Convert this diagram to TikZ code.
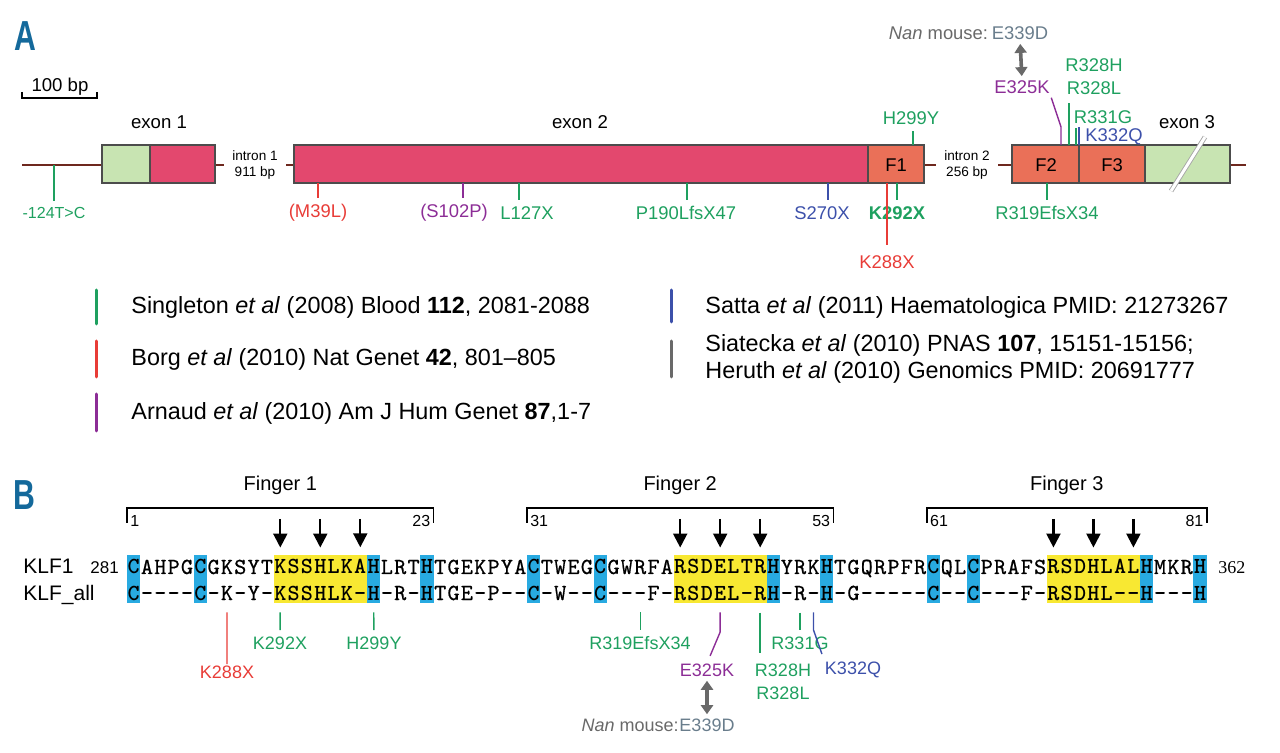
\documentclass[tikz,border=0pt]{standalone}
\usepackage{fontspec}
\setmainfont{Liberation Sans}
\newfontfamily\numfont{Liberation Serif}
\newfontfamily\seqmed{lmmono10-regular.otf}[FakeBold=0.7]
\usetikzlibrary{arrows.meta}

\definecolor{grn}{RGB}{30,160,95}
\definecolor{redm}{RGB}{232,60,55}
\definecolor{purp}{RGB}{140,45,150}
\definecolor{blu}{RGB}{60,80,170}
\definecolor{gry}{RGB}{105,105,105}
\definecolor{mgry}{RGB}{105,125,140}
\definecolor{exred}{RGB}{227,72,110}
\definecolor{fing}{RGB}{234,112,88}
\definecolor{utr}{RGB}{200,228,178}
\definecolor{pblue}{RGB}{20,105,155}
\definecolor{hlblue}{RGB}{40,170,225}
\definecolor{hlyel}{RGB}{248,232,50}
\definecolor{gline}{RGB}{110,40,30}

\begin{document}
\begin{tikzpicture}[x=0.5pt, y=-0.5pt,
        panel/.style={font=\fontsize{21}{21}\selectfont\bfseries, text=pblue, inner sep=0pt},
        lbl/.style={font=\fontsize{9.3}{11}\selectfont, inner sep=0pt},
        mut/.style={font=\fontsize{9.2}{11}\selectfont, inner sep=0pt},
        mutb/.style={font=\fontsize{9}{11}\selectfont, inner sep=0pt},
        small/.style={font=\fontsize{6.8}{7.6}\selectfont, align=center, inner sep=0pt},
        refs/.style={font=\fontsize{11.7}{13.5}\selectfont, anchor=west, inner sep=0pt, align=left},
        bar/.style={line width=1.5pt, line cap=round},
        box/.style={draw=black!70, line width=0.6pt},
        tk/.style={line width=0.7pt, shorten >=3pt},
        res/.style={font=\fontsize{11.5}{12}\selectfont\ttfamily, inner sep=0pt, anchor=base},
        arr/.style={-{Triangle[width=7pt,length=7pt]}, line width=1.1pt},
        dbl/.style={{Triangle[width=6pt,length=4.5pt]}-{Triangle[width=6pt,length=4.5pt]}, line width=1.8pt, draw=gry, shorten <=2pt, shorten >=2pt}
    ]
    \useasboundingbox (0,0) rectangle (1280,753);

    % panel A: gene
    \node[panel] (pA) at (25,36) {\scalebox{0.72}[1]{A}};
    \node[lbl] (bp) at (60,87) {100 bp};
    \draw[line width=0.7pt] (22,92) -- (22,98) -- (97,98) -- (97,92);

    \draw[gline, line width=0.8pt] (22,165) -- (1246,165);
    \path[box, fill=utr] (102,145) rectangle (150,183);
    \path[box, fill=exred] (150,145) rectangle (215,183);
    \path[box, fill=exred] (294,145) rectangle (868,183);
    \path[box, fill=fing] (868,145) rectangle (924,183);
    \path[box, fill=fing] (1012,145) rectangle (1079,183);
    \path[box, fill=fing] (1079,145) rectangle (1145,183);
    \path[box, fill=utr] (1145,145) rectangle (1230,183);
    \draw[line width=2.4pt, black!35] (1205,137) -- (1171,191);
    \draw[line width=1.5pt, white] (1205,137) -- (1171,191);

    \node[small, fill=white, inner xsep=4pt, inner ysep=1pt] (in1) at (255,165) {intron 1\\911 bp};
    \node[small, fill=white, inner xsep=4pt, inner ysep=1pt] (in2) at (967,165) {intron 2\\256 bp};
    \node[lbl] (ex1) at (159,122) {exon 1};
    \node[lbl] (ex2) at (580,122) {exon 2};
    \node[lbl] (ex3) at (1187,122) {exon 3};
    \node[mut] (f1) at (896,165) {F1};
    \node[mut] (f2) at (1046,165) {F2};
    \node[mut] (f3) at (1112,165) {F3};

    % mutations below the gene
    \node[mut, text=grn, font=\fontsize{8}{9}\selectfont] (m124) at (54,213) {-124T>C};
    \node[mut, text=redm] (m39) at (318,213) {(M39L)};
    \node[mut, text=purp] (s102) at (454,213) {(S102P)};
    \node[mut, text=grn] (l127) at (527,213) {L127X};
    \node[mut, text=grn] (p190) at (686,213) {P190LfsX47};
    \node[mut, text=blu] (s270) at (822,213) {S270X};
    \node[mut, text=redm] (k288) at (887,262) {K288X};
    \node[mut, text=grn, font=\fontsize{9.2}{11}\selectfont\bfseries] (k292) at (897,213) {K292X};
    \node[mut, text=grn] (r319) at (1047,213) {R319EfsX34};
    \coordinate (t124) at (54,165);
    \coordinate (t39) at (318,183);
    \coordinate (t102) at (463,183);
    \coordinate (t127) at (519,183);
    \coordinate (t190) at (687,183);
    \coordinate (t270) at (828,183);
    \coordinate (t288) at (887,183);
    \coordinate (t292) at (897,183);
    \coordinate (t319) at (1047,183);
    \draw[tk, grn] (t124) -- (t124 |- m124.north);
    \draw[tk, redm] (t39) -- (m39.north);
    \draw[tk, purp] (t102) -- (t102 |- s102.north);
    \draw[tk, grn] (t127) -- (t127 |- l127.north);
    \draw[tk, grn] (t190) -- (t190 |- p190.north);
    \draw[tk, blu] (t270) -- (t270 |- s270.north);
    \draw[tk, redm, shorten >=5pt] (t288) -- (k288.north);
    \draw[tk, grn] (t292) -- (k292.north);
    \draw[tk, grn] (t319) -- (r319.north);

    % mutations above the gene
    \node[mut, text=grn] (h299) at (911,118) {H299Y};
    \node[mut, text=purp] (e325) at (1022,87) {E325K};
    \node[mut, text=grn] (r328h) at (1094,65) {R328H};
    \node[mut, text=grn] (r328l) at (1094,88) {R328L};
    \node[mut, text=grn] (r331) at (1103,117) {R331G};
    \node[mut, text=blu] (k332) at (1114,137) {K332Q};
    \node[mut, text=mgry] (e339) at (1020,33) {E339D};
    \node[mut, text=gry, anchor=east] (nan) at (e339.west) {\textit{Nan} mouse:\,};
    \coordinate (t299) at (913,145);
    \coordinate (t325) at (1061,145);
    \coordinate (b325) at (1061,127);
    \coordinate (t328) at (1069,145);
    \coordinate (t331) at (1076,145);
    \coordinate (t332) at (1079,145);
    \coordinate (u332) at (1079,127);
    \draw[tk, grn] (t299) -- (t299 |- h299.south);
    \draw[tk, purp, shorten >=2pt] (t325) -- (b325) -- (e325.south east);
    \draw[tk, grn, shorten >=4pt] (t328) -- (t328 |- r328l.south);
    \draw[tk, grn, shorten >=2pt] (t331) -- (t331 |- r331.south);
    \draw[tk, blu, shorten >=0pt] (t332) -- (u332);
    \draw[dbl] (e339.south) -- (e325.north);

    % references
    \draw[bar, grn] (96,290) -- (96,324);
    \draw[bar, redm] (96,341) -- (96,377);
    \draw[bar, purp] (96,394) -- (96,431);
    \draw[bar, blu] (671,290) -- (671,322);
    \draw[bar, gry] (671,341) -- (671,377);
    \node[refs] (ref1) at (131,307) {Singleton \textit{et al} (2008) Blood \textbf{112}, 2081-2088};
    \node[refs] (ref2) at (131,359) {Borg \textit{et al} (2010) Nat Genet \textbf{42}, 801--805};
    \node[refs] (ref3) at (131,413) {Arnaud \textit{et al} (2010) Am J Hum Genet \textbf{87},1-7};
    \node[refs] (ref4) at (705,307) {Satta \textit{et al} (2011) Haematologica PMID: 21273267};
    \node[refs] (ref5) at (705,358.5) {Siatecka \textit{et al} (2010) PNAS \textbf{107}, 15151-15156;\\Heruth \textit{et al} (2010) Genomics PMID: 20691777};

    % panel B: zinc fingers
    \node[panel] (pB) at (24,495) {\scalebox{0.72}[1]{B}};
    \foreach \a/\b/\n in {1/23/1, 31/53/2, 61/81/3} {
        \draw[line width=0.8pt] ({127+(\a-1)*13.33},523) -- ({127+(\a-1)*13.33},508) -- ({127+\b*13.33},508) -- ({127+\b*13.33},523);
        \node[lbl, font=\fontsize{10}{12}\selectfont] (fing\n) at ({127+(\a+\b-1)/2*13.33},485) {Finger \n};
        \node[lbl, font=\fontsize{8}{9}\selectfont, anchor=west] (fs\n) at ({127+(\a-1)*13.33+3},521) {\a};
        \node[lbl, font=\fontsize{8}{9}\selectfont, anchor=east] (fe\n) at ({127+\b*13.33-3},521) {\b};
    }

    \foreach \c in {1,6,19,23,31,36,49,53,61,64,77,81}
        \fill[hlblue] ({127+(\c-1)*13.33},555) rectangle ({127+\c*13.33},603);
    \foreach \a/\b in {12/18,42/48,70/76}
        \fill[hlyel] ({127+(\a-1)*13.33},555) rectangle ({127+\b*13.33},603);

    \foreach \rsd [count=\i] in {C,A,H,P,G,C,G,K,S,Y,T,K,S,S,H,L,K,A,H,L,R,T,H,T,G,E,K,P,Y,A,C,T,W,E,G,C,G,W,R,F,A,R,S,D,E,L,T,R,H,Y,R,K,H,T,G,Q,R,P,F,R,C,Q,L,C,P,R,A,F,S,R,S,D,H,L,A,L,H,M,K,R,H} {
        \pgfmathtruncatemacro\hl{((\i>11)&&(\i<19))||((\i>41)&&(\i<49))||((\i>69)&&(\i<77))||(\i==1)||(\i==6)||(\i==19)||(\i==23)||(\i==31)||(\i==36)||(\i==49)||(\i==53)||(\i==61)||(\i==64)||(\i==77)||(\i==81)}
        \node[res] (kl-\i) at ({120.335+13.33*\i},574) {\ifnum\hl=1 \bfseries\else\seqmed\fi\rsd};
    }
    \foreach \rsd [count=\i] in {C,-,-,-,-,C,-,K,-,Y,-,K,S,S,H,L,K,-,H,-,R,-,H,T,G,E,-,P,-,-,C,-,W,-,-,C,-,-,-,F,-,R,S,D,E,L,-,R,H,-,R,-,H,-,G,-,-,-,-,-,C,-,-,C,-,-,-,F,-,R,S,D,H,L,-,-,H,-,-,-,H} {
        \pgfmathtruncatemacro\hl{((\i>11)&&(\i<19))||((\i>41)&&(\i<49))||((\i>69)&&(\i<77))||(\i==1)||(\i==6)||(\i==19)||(\i==23)||(\i==31)||(\i==36)||(\i==49)||(\i==53)||(\i==61)||(\i==64)||(\i==77)||(\i==81)}
        \node[res] (ka-\i) at ({120.335+13.33*\i},600) {\ifnum\hl=1 \bfseries\else\seqmed\fi\rsd};
    }
    \node[lbl, font=\fontsize{10.5}{12}\selectfont, anchor=base west] (klf1) at (23,574) {KLF1};
    \node[lbl, font=\fontsize{10.5}{12}\selectfont, anchor=base west] (klfall) at (23,600) {KLF\_all};
    \node[lbl, font=\fontsize{8.5}{10}\selectfont, anchor=base west] (n281) at (90,574) {281};
    \node[lbl, font=\fontsize{9}{10}\selectfont\numfont, anchor=base west] (n362) at (1218,574) {362};

    \coordinate (arrtop) at (0,519);
    \foreach \c in {12,15,18,42,45,48,70,73,76}
        \draw[arr, shorten >=6pt] (kl-\c.north |- arrtop) -- (kl-\c.north);

    % mutations on the fingers
    \node[mutb, text=redm] (k288b) at (227,672) {K288X};
    \node[mutb, text=grn] (k292b) at (280,643) {K292X};
    \node[mutb, text=grn] (h299b) at (374,643) {H299Y};
    \node[mutb, text=grn] (r319b) at (640,643) {R319EfsX34};
    \node[mutb, text=purp] (e325b) at (707,670) {E325K};
    \node[mutb, text=grn] (r328hb) at (783,670) {R328H};
    \node[mutb, text=grn] (r328lb) at (783,693) {R328L};
    \node[mutb, text=grn] (r331b) at (800,643) {R331G};
    \node[mutb, text=blu] (k332b) at (853,670) {K332Q};
    \node[mutb, text=mgry] (e339b) at (707,725) {E339D};
    \node[mutb, text=gry, anchor=east] (nanb) at (e339b.west) {\textit{Nan} mouse:};
    \coordinate (b325b) at (720,632);
    \coordinate (b332b) at (813,630);
    \draw[tk, redm, shorten <=6pt, shorten >=0.5pt] (ka-8.south) -- (k288b.north);
    \draw[tk, grn, shorten <=6pt] (ka-12.south) -- (k292b.north);
    \draw[tk, grn, shorten <=6pt] (ka-19.south) -- (h299b.north);
    \draw[tk, grn, shorten <=6pt] (ka-39.south) -- (ka-39.south |- r319b.north);
    \draw[tk, purp, shorten <=6pt, shorten >=4pt] (ka-45.south) -- (ka-45.south |- b325b) -- (e325b.north);
    \draw[tk, grn, shorten <=6pt, shorten >=5pt] (ka-48.south) -- (ka-48.south |- r328hb.north);
    \draw[tk, grn, shorten <=6pt] (ka-51.south) -- (ka-51.south |- r331b.north);
    \draw[tk, blu, shorten <=6pt, shorten >=4pt] (ka-52.south) -- (ka-52.south |- b332b) -- (k332b.north west);
    \draw[dbl] (e325b.south) -- (e339b.north);
\end{tikzpicture}
\end{document}
